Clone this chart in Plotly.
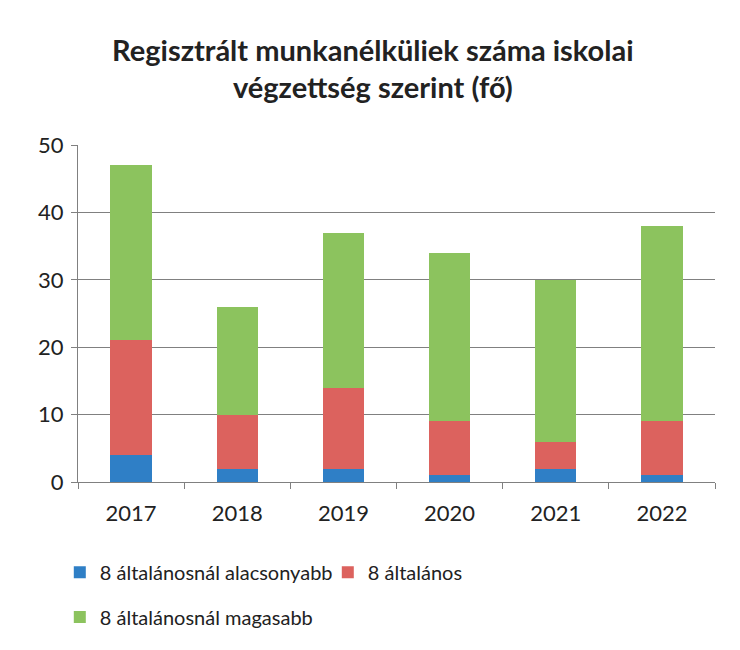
import plotly.graph_objects as go

# Regisztrált munkanélküliek (fő) iskolai végzettség szerint
years = ["2017", "2018", "2019", "2020", "2021", "2022"]
alacsonyabb = [4, 2, 2, 1, 2, 1]
altalanos = [17, 8, 12, 8, 4, 8]
magasabb = [26, 16, 23, 25, 24, 29]

font_family = "Lato, 'Open Sans', sans-serif"

fig = go.Figure()

fig.add_trace(go.Bar(
    x=years, y=alacsonyabb,
    name="8 általánosnál alacsonyabb",
    marker=dict(color="#2F7FC6", line=dict(width=0)),
    legend="legend",
))
fig.add_trace(go.Bar(
    x=years, y=altalanos,
    name="8 általános",
    marker=dict(color="#DC625E", line=dict(width=0)),
    legend="legend",
))
fig.add_trace(go.Bar(
    x=years, y=magasabb,
    name="8 általánosnál magasabb",
    marker=dict(color="#8CC35E", line=dict(width=0)),
    legend="legend2",
))

fig.update_layout(
    width=740,
    height=650,
    barmode="stack",
    bargap=0.61,
    paper_bgcolor="white",
    plot_bgcolor="white",
    font=dict(family=font_family, size=22, color="#222222"),
    title=dict(
        text="<b>Regisztrált munkanélküliek száma iskolai<br>végzettség szerint (fő)</b>",
        x=0.493,
        xanchor="center",
        y=0.919,
        yanchor="top",
        font=dict(family=font_family, size=29, color="#222222"),
    ),
    margin=dict(l=70, r=33, t=137, b=176),
    legend=dict(
        orientation="h",
        xref="container", yref="container",
        x=0.07, y=0.132,
        xanchor="left", yanchor="middle",
        traceorder="normal",
        entrywidth=223,
        font=dict(size=20),
        bgcolor="rgba(0,0,0,0)",
        itemclick=False,
    ),
    legend2=dict(
        orientation="h",
        xref="container", yref="container",
        x=0.07, y=0.063,
        xanchor="left", yanchor="middle",
        font=dict(size=20),
        bgcolor="rgba(0,0,0,0)",
        itemclick=False,
    ),
)

fig.update_yaxes(
    range=[0, 50],
    dtick=10,
    showgrid=True,
    gridcolor="#808080",
    gridwidth=1,
    showline=True,
    linecolor="#808080",
    ticks="outside",
    ticklen=6,
    tickcolor="#808080",
    ticklabelstandoff=3,
    zeroline=False,
)
fig.update_xaxes(
    type="category",
    showline=True,
    linecolor="#808080",
    ticks="outside",
    tickson="boundaries",
    ticklen=6,
    tickcolor="#808080",
    ticklabelstandoff=12,
    showgrid=False,
)

fig.write_html("out.html")
